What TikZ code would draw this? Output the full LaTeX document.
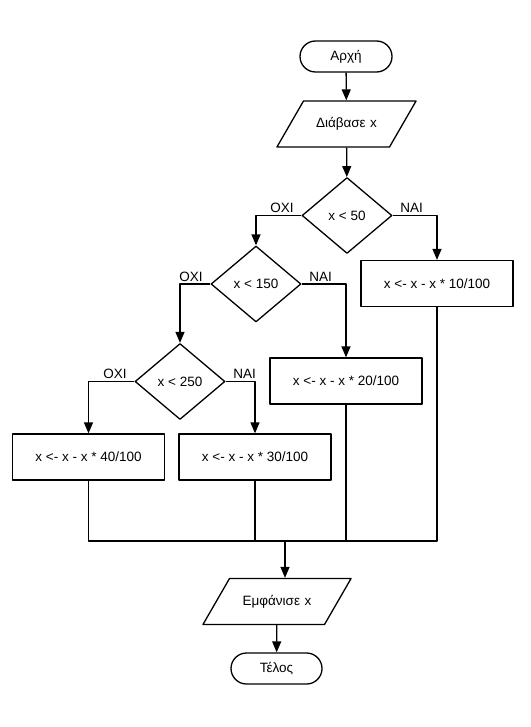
\documentclass[tikz,border=0pt]{standalone}
\usepackage{fontspec}
\setmainfont{Liberation Sans}
\usetikzlibrary{shapes.geometric,arrows.meta}
\begin{document}
\begin{tikzpicture}[x=1pt, y=-1pt, font=\fontsize{13.5}{16}\selectfont, line join=round, line width=1.3pt, >={Triangle[length=11pt,width=9pt]},
	term/.style={draw, rounded corners=15.5pt, minimum width=92pt, minimum height=31pt, inner sep=0pt},
	io/.style={draw, trapezium, trapezium left angle=60, trapezium right angle=120, inner xsep=0pt, inner ysep=15pt, text height=12pt, text depth=4pt, align=center},
	cond/.style={draw, diamond, minimum width=90pt, minimum height=76pt, inner sep=0pt},
	calc/.style={draw, minimum width=152pt, minimum height=46pt, inner sep=0pt},
	no/.style={above left, inner sep=2pt, xshift=-5pt},
	yes/.style={above right, inner sep=2pt, xshift=5pt}]
	\useasboundingbox (0,0) rectangle (530,727);
	% Κόμβοι
	\node[term] (start) at (346,56.5) {Αρχή};
	\node[io, text width=86pt] (read) at (346.5,124) {Διάβασε x};
	\node[cond] (c50) at (347,215.5) {x < 50};
	\node[cond] (c150) at (256,284) {x < 150};
	\node[cond] (c250) at (180,381.5) {x < 250};
	\node[calc] (p10) at (437,283.5) {x <- x - x * 10/100};
	\node[calc] (p20) at (346,381) {x <- x - x * 20/100};
	\node[calc] (p30) at (255,457) {x <- x - x * 30/100};
	\node[calc] (p40) at (88.5,457) {x <- x - x * 40/100};
	\coordinate (merge) at (285,541);
	\node[io, text width=95pt] (show) at (277,601.5) {Εμφάνισε x};
	\node[term, minimum width=91pt] (stop) at (276.5,668.5) {Τέλος};
	% Συνδέσεις
	\draw[->] (start) -- (read);
	\draw[->] (read) -- (c50);
	\draw[->] (c50.west) node[no]{ΟΧΙ} -| (c150.north);
	\draw[->] (c50.east) node[yes]{ΝΑΙ} -| (p10.north);
	\draw[->] (c150.west) node[no]{ΟΧΙ} -| (c250.north);
	\draw[->] (c150.east) node[yes]{ΝΑΙ} -| (p20.north);
	\draw[->] (c250.west) node[no]{ΟΧΙ} -| (p40.north);
	\draw[->] (c250.east) node[yes]{ΝΑΙ} -| (p30.north);
	\draw (p40) -- (p40 |- merge) -| (p10);
	\draw (p30) -- (p30 |- merge);
	\draw (p20) -- (p20 |- merge);
	\draw[->] (merge) -- (merge |- show.north);
	\draw[->] (show) -- (stop);
\end{tikzpicture}
\end{document}
